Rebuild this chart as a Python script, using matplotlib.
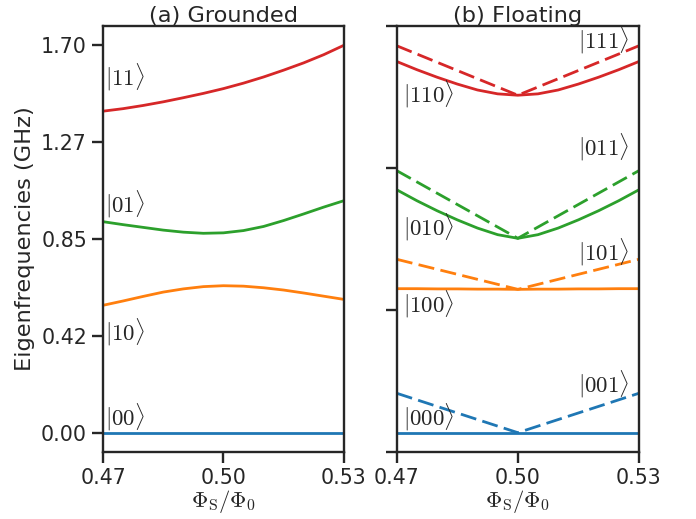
import numpy as np
import matplotlib
matplotlib.use("Agg")
import matplotlib.pyplot as plt

plt.rcParams.update({
    "font.family": ["DejaVu Sans"],
    "mathtext.fontset": "cm",
    "axes.edgecolor": "#262626",
    "axes.linewidth": 1.7,
    "xtick.major.size": 8.1,
    "ytick.major.size": 8.1,
    "xtick.major.width": 1.7,
    "ytick.major.width": 1.7,
    "xtick.color": "#262626",
    "ytick.color": "#262626",
    "text.color": "#262626",
    "axes.labelcolor": "#262626",
    "xtick.labelsize": 14.8,
    "ytick.labelsize": 14.8,
})

# flux bias grid
phi = [0.470, 0.475, 0.480, 0.485, 0.490, 0.495, 0.500,
       0.505, 0.510, 0.515, 0.520, 0.525, 0.530]
phi_v = [0.47, 0.50, 0.53]

# grounded coupler levels (GHz)
g_00 = [0.0] * 13
g_10 = [0.559, 0.578, 0.598, 0.617, 0.631, 0.641, 0.645,
        0.643, 0.636, 0.626, 0.613, 0.599, 0.585]
g_01 = [0.926, 0.913, 0.901, 0.889, 0.880, 0.875, 0.877,
        0.887, 0.905, 0.931, 0.960, 0.990, 1.018]
g_11 = [1.411, 1.422, 1.436, 1.452, 1.470, 1.489, 1.510,
        1.534, 1.561, 1.591, 1.623, 1.659, 1.700]

# floating coupler levels (GHz), solid branch
f_000 = [0.0] * 13
f_100 = [0.632, 0.632, 0.631, 0.631, 0.630, 0.630, 0.629,
         0.630, 0.630, 0.631, 0.631, 0.632, 0.632]
f_010 = [1.066, 1.018, 0.974, 0.934, 0.898, 0.869, 0.853,
         0.869, 0.898, 0.934, 0.974, 1.018, 1.066]
f_110 = [1.629, 1.593, 1.560, 1.530, 1.504, 1.487, 1.481,
         1.487, 1.504, 1.530, 1.560, 1.593, 1.629]
# dashed branch
f_001 = [0.173, 0.0, 0.173]
f_101 = [0.761, 0.629, 0.761]
f_011 = [1.150, 0.853, 1.150]
f_111 = [1.698, 1.481, 1.698]

blue, orange, green, red = "#1f77b4", "#ff7f0e", "#2ca02c", "#d62728"
lw = 2.0
dash = (5.8, 2.3)

fig = plt.figure(figsize=(6.96, 5.19), dpi=100)
ax1 = fig.add_axes([0.148, 0.129, 0.346, 0.821])
ax2 = fig.add_axes([0.570, 0.129, 0.348, 0.821])

ax1.plot(phi, g_00, color=blue, lw=lw)
ax1.plot(phi, g_10, color=orange, lw=lw)
ax1.plot(phi, g_01, color=green, lw=lw)
ax1.plot(phi, g_11, color=red, lw=lw)

ymax = max(g_11)
ax1.set_yticks(np.linspace(0, ymax, 5))
ax1.set_yticklabels(["%.2f" % v for v in [0.0, 0.42, 0.85, 1.27, 1.70]])
ax1.set_ylabel("Eigenfrequencies (GHz)", fontsize=16.2)
ax1.set_title("(a) Grounded", fontsize=16.2, pad=3)

lab = dict(fontsize=16.5, va="center", ha="left")
ax1.text(0.4705, 1.56, r"$|11\rangle$", **lab)
ax1.text(0.4705, 1.00, r"$|01\rangle$", **lab)
ax1.text(0.4705, 0.44, r"$|10\rangle$", **lab)
ax1.text(0.4705, 0.066, r"$|00\rangle$", **lab)

ax2.plot(phi, f_000, color=blue, lw=lw)
ax2.plot(phi_v, f_001, color=blue, lw=lw, dashes=dash)
ax2.plot(phi, f_100, color=orange, lw=lw)
ax2.plot(phi_v, f_101, color=orange, lw=lw, dashes=dash)
ax2.plot(phi, f_010, color=green, lw=lw)
ax2.plot(phi_v, f_011, color=green, lw=lw, dashes=dash)
ax2.plot(phi, f_110, color=red, lw=lw)
ax2.plot(phi_v, f_111, color=red, lw=lw, dashes=dash)
ax2.set_title("(b) Floating", fontsize=16.2, pad=3)

for ax in (ax1, ax2):
    ax.set_xlim(0.47, 0.53)
    ax.set_ylim(-0.085, 1.785)
    ax.set_xticks([0.47, 0.50, 0.53])
    ax.set_xticklabels(["0.47", "0.50", "0.53"])
    ax.set_xlabel(r"$\Phi_\mathrm{S}/\Phi_0$", fontsize=16.2, labelpad=0)

ylo, yhi = ax2.get_ylim()
ax2.set_yticks(np.linspace(ylo, yhi, 4))
ax2.set_yticklabels([])

ax2.text(0.4715, 1.485, r"$|110\rangle$", **lab)
ax2.text(0.4715, 0.90, r"$|010\rangle$", **lab)
ax2.text(0.4715, 0.565, r"$|100\rangle$", **lab)
ax2.text(0.4715, 0.066, r"$|000\rangle$", **lab)
rlab = dict(fontsize=16.5, va="center", ha="right")
ax2.text(0.5277, 1.72, r"$|111\rangle$", **rlab)
ax2.text(0.5277, 1.25, r"$|011\rangle$", **rlab)
ax2.text(0.5277, 0.79, r"$|101\rangle$", **rlab)
ax2.text(0.5277, 0.21, r"$|001\rangle$", **rlab)

fig.savefig("out.png", dpi=100)
